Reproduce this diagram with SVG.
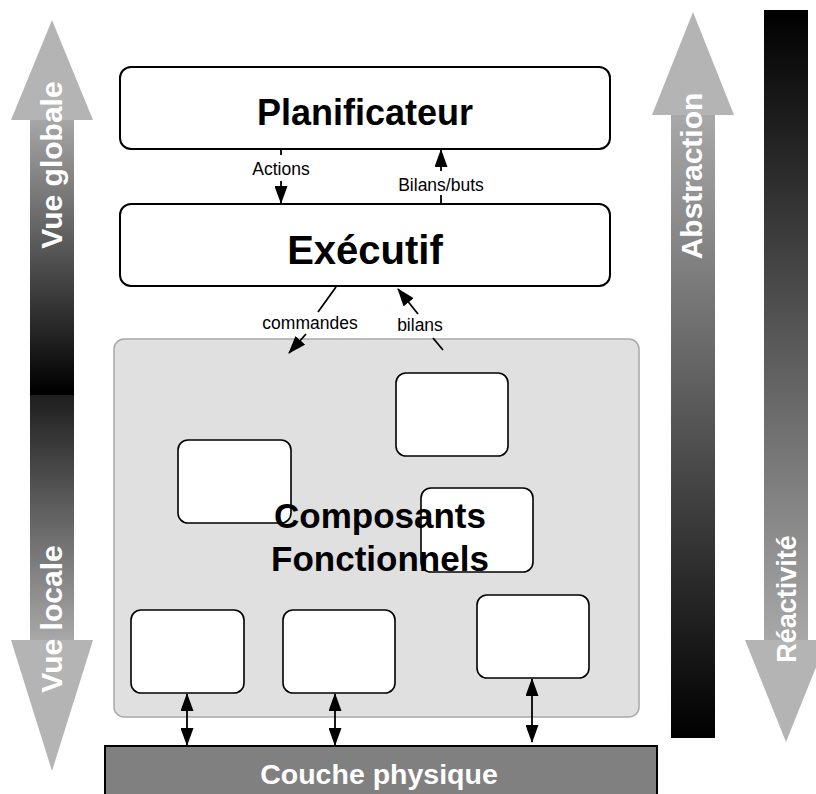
<svg xmlns="http://www.w3.org/2000/svg" width="816" height="794" viewBox="0 0 816 794">
  <style>
    .box { fill: #ffffff; stroke: #000000; stroke-width: 2; }
    .comp { fill: #ffffff; stroke: #000000; stroke-width: 1.6; }
    .big { font-family: "Liberation Sans", Arial, sans-serif; font-weight: bold; fill: #000; text-anchor: middle; }
    .lbl { font-family: "Liberation Sans", Arial, sans-serif; font-size: 17.5px; fill: #000; text-anchor: middle; }
    .side { font-family: "Liberation Sans", Arial, sans-serif; font-weight: bold; fill: #ffffff; text-anchor: middle; }
    .head { fill: #b4b4b4; }
    .conn { stroke: #000; stroke-width: 1.8; fill: none; }
  </style>
  <defs>
    <linearGradient id="gTopL" gradientUnits="userSpaceOnUse" x1="0" y1="120" x2="0" y2="392">
      <stop offset="0" stop-color="#a6a6a6"/>
      <stop offset="1" stop-color="#000000"/>
    </linearGradient>
    <linearGradient id="gBotL" gradientUnits="userSpaceOnUse" x1="0" y1="395" x2="0" y2="640">
      <stop offset="0" stop-color="#1e1e1e"/>
      <stop offset="1" stop-color="#a8a8a8"/>
    </linearGradient>
    <linearGradient id="gAbs" gradientUnits="userSpaceOnUse" x1="0" y1="115" x2="0" y2="738">
      <stop offset="0" stop-color="#a8a8a8"/>
      <stop offset="1" stop-color="#000000"/>
    </linearGradient>
    <linearGradient id="gRea" gradientUnits="userSpaceOnUse" x1="0" y1="10" x2="0" y2="640">
      <stop offset="0" stop-color="#000000"/>
      <stop offset="1" stop-color="#a8a8a8"/>
    </linearGradient>
    <marker id="ah" markerWidth="18" markerHeight="13" refX="17" refY="6.5" orient="auto" markerUnits="userSpaceOnUse">
      <path d="M0,0 L18,6.5 L0,13 z" fill="#000"/>
    </marker>
    <marker id="ahs" markerWidth="18" markerHeight="13" refX="1" refY="6.5" orient="auto" markerUnits="userSpaceOnUse">
      <path d="M18,0 L0,6.5 L18,13 z" fill="#000"/>
    </marker>
  </defs>

  <rect width="816" height="794" fill="#ffffff"/>

  <!-- Side arrows -->
  <g id="vue-globale">
    <rect x="30" y="119" width="44" height="276" fill="url(#gTopL)"/>
    <polygon class="head" points="52,20 93,120 11,120"/>
    <text class="side" font-size="30" transform="translate(62,165) rotate(-90)">Vue globale</text>
  </g>
  <g id="vue-locale">
    <rect x="30" y="395" width="44" height="246" fill="url(#gBotL)"/>
    <polygon class="head" points="11,640 93,640 52,771"/>
    <text class="side" font-size="30" transform="translate(62,619) rotate(-90)">Vue locale</text>
  </g>
  <g id="abstraction">
    <rect x="671" y="114" width="44" height="624" fill="url(#gAbs)"/>
    <polygon class="head" points="693,12 734,115 652,115"/>
    <text class="side" font-size="30" transform="translate(702,176) rotate(-90)">Abstraction</text>
  </g>
  <g id="reactivite">
    <rect x="764" y="10" width="44" height="631" fill="url(#gRea)"/>
    <polygon class="head" points="745,640 827,640 786,742"/>
    <text class="side" font-size="27" transform="translate(796,599) rotate(-90)">Réactivité</text>
  </g>

  <!-- Main nodes -->
  <g id="planificateur">
    <rect class="box" x="120" y="67" width="490" height="82" rx="11"/>
    <text class="big" font-size="36" x="365" y="125">Planificateur</text>
  </g>
  <g id="executif">
    <rect class="box" x="120" y="204" width="490" height="82" rx="11"/>
    <text class="big" font-size="40" x="365" y="264">Exécutif</text>
  </g>

  <g id="composants">
    <rect x="114" y="339" width="525" height="378" rx="10" fill="#e0e0e0" stroke="#a8a8a8" stroke-width="1.5"/>
    <rect class="comp" x="396" y="373" width="112" height="83" rx="10"/>
    <rect class="comp" x="178" y="440" width="113" height="83" rx="10"/>
    <rect class="comp" x="421" y="488" width="112" height="84" rx="10"/>
    <rect class="comp" x="131" y="610" width="113" height="83" rx="10"/>
    <rect class="comp" x="283" y="610" width="112" height="83" rx="10"/>
    <rect class="comp" x="477" y="595" width="112" height="83" rx="10"/>
    <text class="big" font-size="35" x="380" y="528">Composants</text>
    <text class="big" font-size="35" x="380" y="571">Fonctionnels</text>
  </g>

  <g id="couche-physique">
    <rect x="105" y="746" width="552" height="52" fill="#808080" stroke="#000" stroke-width="2"/>
    <text class="side" font-size="28.5" x="379" y="784">Couche physique</text>
  </g>

  <!-- Connectors -->
  <g id="connectors">
    <line class="conn" x1="281" y1="149" x2="281" y2="155"/>
    <line class="conn" x1="281" y1="181" x2="281" y2="203" marker-end="url(#ah)"/>
    <line class="conn" x1="441" y1="204" x2="441" y2="195"/>
    <line class="conn" x1="441" y1="171" x2="441" y2="150" marker-end="url(#ah)"/>
    <line class="conn" x1="336" y1="287" x2="318" y2="312"/>
    <line class="conn" x1="306" y1="334" x2="289" y2="353" marker-end="url(#ah)"/>
    <line class="conn" x1="443" y1="350" x2="433" y2="338"/>
    <line class="conn" x1="418" y1="314" x2="398" y2="289" marker-end="url(#ah)"/>
    <line class="conn" x1="187" y1="694" x2="187" y2="745" marker-start="url(#ahs)" marker-end="url(#ah)"/>
    <line class="conn" x1="335" y1="694" x2="335" y2="745" marker-start="url(#ahs)" marker-end="url(#ah)"/>
    <line class="conn" x1="532" y1="679" x2="532" y2="742" marker-start="url(#ahs)" marker-end="url(#ah)"/>
    <text class="lbl" x="281" y="175">Actions</text>
    <text class="lbl" x="441" y="191">Bilans/buts</text>
    <text class="lbl" x="310" y="329">commandes</text>
    <text class="lbl" x="420" y="331">bilans</text>
  </g>
</svg>
